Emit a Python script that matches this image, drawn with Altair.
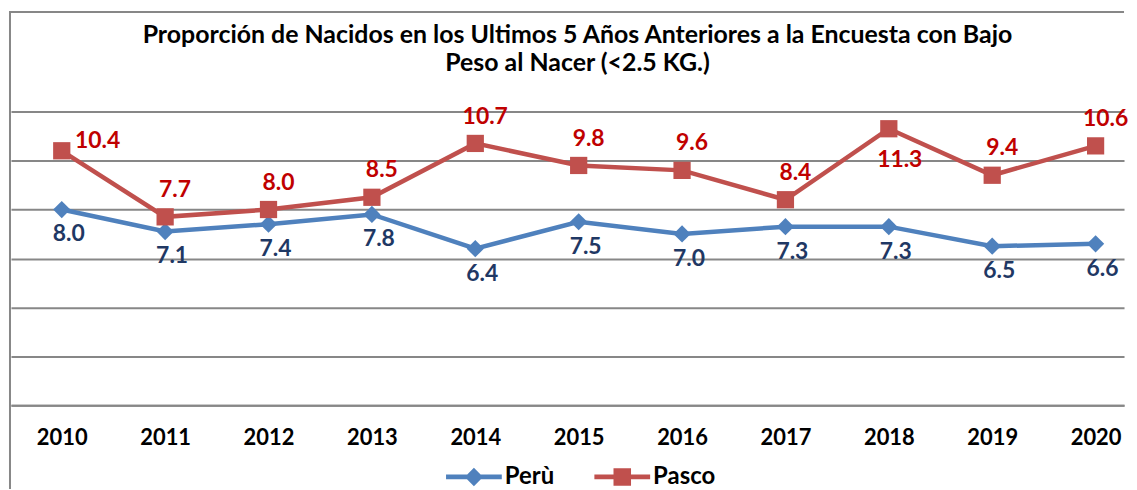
import altair as alt
import pandas as pd

years = [2010, 2011, 2012, 2013, 2014, 2015, 2016, 2017, 2018, 2019, 2020]
peru = [8.0, 7.1, 7.4, 7.8, 6.4, 7.5, 7.0, 7.3, 7.3, 6.5, 6.6]
pasco = [10.4, 7.7, 8.0, 8.5, 10.7, 9.8, 9.6, 8.4, 11.3, 9.4, 10.6]
series_names = ["Perù", "Pasco"]
line_colors = ["#4F81BD", "#C0504D"]
label_colors = ["#1F3864", "#C00000"]
title_lines = [
    "Proporción de Nacidos en los Ultimos 5 Años Anteriores a la Encuesta con Bajo",
    "Peso al Nacer (<2.5 KG.)",
]
y_ticks = [0, 2, 4, 6, 8, 10, 12]

rows = []
for name, vals in zip(series_names, [peru, pasco]):
    for yr, v in zip(years, vals):
        rows.append({"year": yr, "serie": name, "valor": v, "label": f"{v:.1f}"})
df = pd.DataFrame(rows)

W = 1118
H = 295
FONT = "Lato"
GRID = "#878787"

x_enc = alt.X(
    "year:Q",
    scale=alt.Scale(domain=[2009.509, 2020.275], nice=False, zero=False),
    axis=alt.Axis(
        values=years, format="d", title=None, grid=False, ticks=False,
        labelFontSize=22, labelFont=FONT, labelFontWeight="bold",
        labelColor="black", labelPadding=22, labelFlush=False,
        labelOverlap=False, domainColor=GRID, domainWidth=2,
    ),
)
y_enc = alt.Y(
    "valor:Q",
    scale=alt.Scale(domain=[0, 12], nice=False),
    axis=alt.Axis(
        values=y_ticks, labels=False, ticks=False, domain=False, title=None,
        grid=True, gridColor=GRID, gridWidth=2,
    ),
)

def color_enc(legend=None):
    return alt.Color(
        "serie:N",
        scale=alt.Scale(domain=series_names, range=line_colors),
        legend=legend,
    )

base = alt.Chart(df)

lines = base.mark_line(strokeWidth=4.5).encode(
    x=x_enc, y=y_enc, color=color_enc(), detail="serie:N"
)
points = base.mark_point(filled=True, opacity=1, size=300).encode(
    x=x_enc, y=y_enc, color=color_enc(),
    shape=alt.Shape("serie:N", scale=alt.Scale(domain=series_names, range=["diamond", "square"]), legend=None),
)

txt = dict(fontSize=23, font=FONT, fontWeight="bold", align="center", baseline="middle")
peru_labels = base.transform_filter(alt.datum.serie == series_names[0]).mark_text(
    color=label_colors[0], dx=7, dy=25, **txt
).encode(x=x_enc, y=y_enc, text="label:N")
pasco_main = base.transform_filter(
    (alt.datum.serie == series_names[1]) & (alt.datum.year != 2010) & (alt.datum.year != 2018)
).mark_text(color=label_colors[1], dx=10, dy=-27, **txt).encode(x=x_enc, y=y_enc, text="label:N")
pasco_right = base.transform_filter(
    (alt.datum.serie == series_names[1]) & (alt.datum.year == 2010)
).mark_text(color=label_colors[1], dx=36, dy=-10, **txt).encode(x=x_enc, y=y_enc, text="label:N")
pasco_below = base.transform_filter(
    (alt.datum.serie == series_names[1]) & (alt.datum.year == 2018)
).mark_text(color=label_colors[1], dx=11, dy=31, **txt).encode(x=x_enc, y=y_enc, text="label:N")

# legend-only layer (no data drawn)
legend_paths = [
    "M-3.5,-0.3H3.5V0.3H-3.5Z M0,-1.15L1.15,0L0,1.15L-1.15,0Z",
    "M-3.5,-0.3H3.5V0.3H-3.5Z M-1.1,-1.1H1.1V1.1H-1.1Z",
]
leg = dict(
    orient="none", legendX=453, legendY=355, direction="horizontal", title=None,
    symbolSize=256, labelOffset=19, columnPadding=40, labelFontSize=24,
    labelFont=FONT, labelFontWeight="bold", labelColor="black",
    symbolStrokeWidth=0,
)
legend_layer = base.transform_filter("false").mark_point(filled=True, opacity=1).encode(
    x=x_enc, y=y_enc,
    color=color_enc(alt.Legend(**leg)),
    shape=alt.Shape("serie:N", scale=alt.Scale(domain=series_names, range=legend_paths), legend=alt.Legend(**leg)),
)

one = pd.DataFrame({"k": [0]})
frame_top = alt.Chart(one).mark_rule(color=GRID, strokeWidth=2).encode(
    x=alt.value(-2), x2=alt.value(W), y=alt.value(-100)
)
frame_left = alt.Chart(one).mark_rule(color=GRID, strokeWidth=2).encode(
    x=alt.value(-1), y=alt.value(-100), y2=alt.value(379)
)

chart = alt.layer(
    frame_top, frame_left, lines, points, peru_labels, pasco_main, pasco_right, pasco_below, legend_layer
).resolve_scale(
    color="independent", shape="independent"
).properties(
    width=W, height=H,
    padding={"left": 0, "top": 2, "right": 0, "bottom": 0},
    title=alt.TitleParams(
        text=title_lines, fontSize=25, font=FONT, fontWeight="bold", color="black",
        anchor="middle", lineHeight=28, offset=0, baseline="bottom", dy=90, dx=10,
    ),
).configure_view(stroke=None)

chart.save("out.html", embed_options={"renderer": "svg", "actions": False})
